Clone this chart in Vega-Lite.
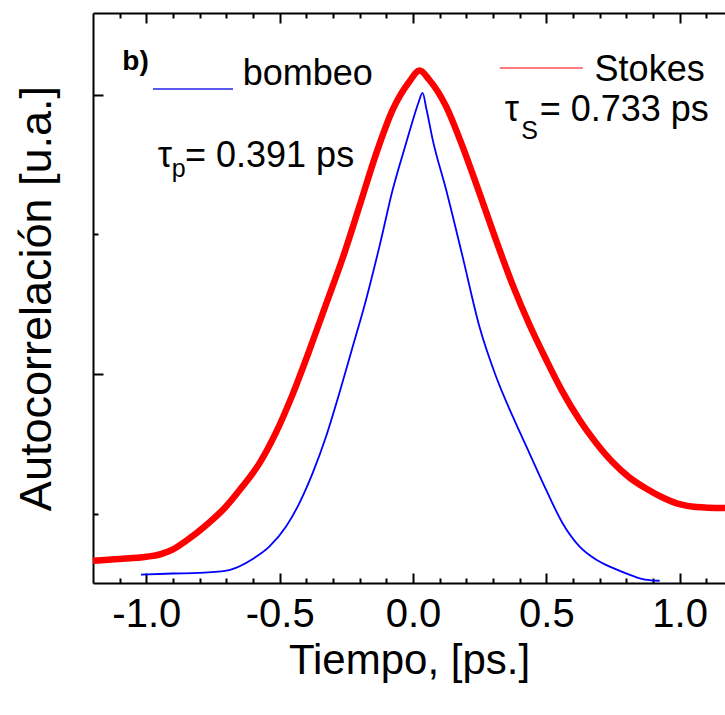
{
  "$schema": "https://vega.github.io/schema/vega-lite/v6.json",
  "width": 632,
  "height": 570,
  "autosize": {"type": "none"},
  "padding": {"left": 93, "top": 13, "right": 0, "bottom": 132},
  "background": "white",
  "config": {"view": {"stroke": null}, "font": "Liberation Sans"},
  "datasets": {
    "curves": [
      {"serie": "Stokes", "t": -1.2, "a": 0.166},
      {"serie": "Stokes", "t": -1.1, "a": 0.169},
      {"serie": "Stokes", "t": -1.0, "a": 0.173},
      {"serie": "Stokes", "t": -0.95, "a": 0.177},
      {"serie": "Stokes", "t": -0.9, "a": 0.186},
      {"serie": "Stokes", "t": -0.851, "a": 0.2015},
      {"serie": "Stokes", "t": -0.777, "a": 0.229},
      {"serie": "Stokes", "t": -0.701, "a": 0.263},
      {"serie": "Stokes", "t": -0.639, "a": 0.299},
      {"serie": "Stokes", "t": -0.576, "a": 0.340},
      {"serie": "Stokes", "t": -0.514, "a": 0.395},
      {"serie": "Stokes", "t": -0.451, "a": 0.464},
      {"serie": "Stokes", "t": -0.388, "a": 0.543},
      {"serie": "Stokes", "t": -0.326, "a": 0.625},
      {"serie": "Stokes", "t": -0.264, "a": 0.707},
      {"serie": "Stokes", "t": -0.201, "a": 0.800},
      {"serie": "Stokes", "t": -0.139, "a": 0.893},
      {"serie": "Stokes", "t": -0.076, "a": 0.973},
      {"serie": "Stokes", "t": -0.014, "a": 1.023},
      {"serie": "Stokes", "t": 0.025, "a": 1.043},
      {"serie": "Stokes", "t": 0.06, "a": 1.027},
      {"serie": "Stokes", "t": 0.124, "a": 0.979},
      {"serie": "Stokes", "t": 0.186, "a": 0.907},
      {"serie": "Stokes", "t": 0.249, "a": 0.824},
      {"serie": "Stokes", "t": 0.311, "a": 0.740},
      {"serie": "Stokes", "t": 0.374, "a": 0.659},
      {"serie": "Stokes", "t": 0.436, "a": 0.589},
      {"serie": "Stokes", "t": 0.499, "a": 0.526},
      {"serie": "Stokes", "t": 0.561, "a": 0.468},
      {"serie": "Stokes", "t": 0.624, "a": 0.418},
      {"serie": "Stokes", "t": 0.686, "a": 0.377},
      {"serie": "Stokes", "t": 0.749, "a": 0.342},
      {"serie": "Stokes", "t": 0.811, "a": 0.315},
      {"serie": "Stokes", "t": 0.874, "a": 0.295},
      {"serie": "Stokes", "t": 0.936, "a": 0.279},
      {"serie": "Stokes", "t": 0.999, "a": 0.267},
      {"serie": "Stokes", "t": 1.061, "a": 0.262},
      {"serie": "Stokes", "t": 1.17, "a": 0.260},
      {"serie": "bombeo", "t": -1.02, "a": 0.141},
      {"serie": "bombeo", "t": -0.9, "a": 0.143},
      {"serie": "bombeo", "t": -0.8, "a": 0.144},
      {"serie": "bombeo", "t": -0.7, "a": 0.148},
      {"serie": "bombeo", "t": -0.65, "a": 0.156},
      {"serie": "bombeo", "t": -0.601, "a": 0.169},
      {"serie": "bombeo", "t": -0.538, "a": 0.1915},
      {"serie": "bombeo", "t": -0.476, "a": 0.227},
      {"serie": "bombeo", "t": -0.426, "a": 0.269},
      {"serie": "bombeo", "t": -0.376, "a": 0.323},
      {"serie": "bombeo", "t": -0.326, "a": 0.388},
      {"serie": "bombeo", "t": -0.276, "a": 0.466},
      {"serie": "bombeo", "t": -0.226, "a": 0.549},
      {"serie": "bombeo", "t": -0.176, "a": 0.633},
      {"serie": "bombeo", "t": -0.126, "a": 0.728},
      {"serie": "bombeo", "t": -0.076, "a": 0.830},
      {"serie": "bombeo", "t": -0.026, "a": 0.913},
      {"serie": "bombeo", "t": 0.0, "a": 0.955},
      {"serie": "bombeo", "t": 0.02, "a": 0.985},
      {"serie": "bombeo", "t": 0.036, "a": 1.003},
      {"serie": "bombeo", "t": 0.05, "a": 0.975},
      {"serie": "bombeo", "t": 0.074, "a": 0.919},
      {"serie": "bombeo", "t": 0.124, "a": 0.830},
      {"serie": "bombeo", "t": 0.186, "a": 0.710},
      {"serie": "bombeo", "t": 0.249, "a": 0.585},
      {"serie": "bombeo", "t": 0.311, "a": 0.496},
      {"serie": "bombeo", "t": 0.374, "a": 0.424},
      {"serie": "bombeo", "t": 0.436, "a": 0.359},
      {"serie": "bombeo", "t": 0.499, "a": 0.293},
      {"serie": "bombeo", "t": 0.561, "a": 0.233},
      {"serie": "bombeo", "t": 0.624, "a": 0.1915},
      {"serie": "bombeo", "t": 0.686, "a": 0.168},
      {"serie": "bombeo", "t": 0.749, "a": 0.153},
      {"serie": "bombeo", "t": 0.811, "a": 0.141},
      {"serie": "bombeo", "t": 0.87, "a": 0.132},
      {"serie": "bombeo", "t": 0.925, "a": 0.130}
    ],
    "keys": [
      {"serie": "bombeo", "t": -0.975, "t2": -0.675, "a": 1.010},
      {"serie": "Stokes", "t": 0.325, "t2": 0.637, "a": 1.0476}
    ],
    "main": [
      {"t": -0.6386, "a": 1.0165, "txt": "bombeo"},
      {"t": 0.681, "a": 1.0236, "txt": "Stokes"},
      {"t": -0.957, "a": 0.871, "txt": "τ"},
      {"t": -0.855, "a": 0.871, "txt": "= 0.391 ps"},
      {"t": 0.344, "a": 0.952, "txt": "τ"},
      {"t": 0.475, "a": 0.952, "txt": "= 0.733 ps"}
    ],
    "subs": [
      {"t": -0.905, "a": 0.853, "txt": "p"},
      {"t": 0.406, "a": 0.921, "txt": "S"}
    ],
    "panel": [
      {"t": -1.09, "a": 1.059, "txt": "b)"}
    ],
    "anchor": [
      {"t": 0, "a": 0.5}
    ]
  },
  "resolve": {"axis": {"x": "independent"}},
  "layer": [
    {
      "data": {"name": "anchor"},
      "mark": {"type": "point", "opacity": 0},
      "encoding": {
        "x": {"field": "t", "type": "quantitative", "scale": {"domain": [-1.2, 1.17], "nice": false},
          "axis": {"orient": "bottom", "values": [-1.0, -0.5, 0, 0.5, 1.0],
            "ticks": false, "tickSize": 0,
            "grid": true, "gridColor": "black", "gridWidth": 2, "gridOpacity": 1, "gridDash": [10, 550, 10],
            "domain": true, "domainColor": "black", "domainWidth": 2,
            "labelExpr": "replace(format(datum.value, '.1f'), '\u2212', '-')",
            "labelFontSize": 40, "labelColor": "black", "labelPadding": 11,
            "title": "Tiempo, [ps.]", "titleFontSize": 42, "titleFontWeight": "normal", "titleColor": "black", "titlePadding": 6}},
        "y": {"field": "a", "type": "quantitative", "scale": {"domain": [0.126, 1.146], "nice": false},
          "axis": {
            "orient": "left",
            "values": [0.25, 0.5, 0.75, 1.0],
            "labels": false,
            "tickSize": {"condition": {"test": "abs(datum.value*2 - round(datum.value*2)) < 0.001", "value": -10}, "value": -5},
            "domainColor": "black", "domainWidth": 2,
            "tickColor": "black", "tickWidth": 2,
            "grid": false,
            "title": "Autocorrelación [u.a.]", "titleFontSize": 45, "titleFontWeight": "normal", "titleColor": "black", "titlePadding": 33
          }}
      }
    },
    {
      "data": {"name": "anchor"},
      "mark": {"type": "point", "opacity": 0},
      "encoding": {
        "x": {"field": "t", "type": "quantitative", "scale": {"domain": [-1.2, 1.17], "nice": false},
          "axis": {"orient": "bottom", "values": [-1.1, -0.9, -0.8, -0.7, -0.6, -0.4, -0.3, -0.2, -0.1, 0.1, 0.2, 0.3, 0.4, 0.6, 0.7, 0.8, 0.9, 1.1],
            "ticks": false, "tickSize": 0, "labels": false, "domain": false,
            "grid": true, "gridColor": "black", "gridWidth": 2, "gridOpacity": 1, "gridDash": [5, 560, 5],
            "title": null}},
        "y": {"field": "a", "type": "quantitative", "scale": {"domain": [0.126, 1.146], "nice": false}}
      }
    },
    {
      "data": {"name": "anchor"},
      "mark": {"type": "point", "opacity": 0},
      "encoding": {
        "x": {"field": "t", "type": "quantitative", "scale": {"domain": [-1.2, 1.17], "nice": false},
          "axis": {"orient": "top", "ticks": false, "labels": false, "domainColor": "black", "domainWidth": 2, "grid": false, "title": null}},
        "y": {"field": "a", "type": "quantitative", "scale": {"domain": [0.126, 1.146], "nice": false}}
      }
    },
    {
      "data": {"name": "curves"},
      "transform": [{"filter": "datum.serie == 'Stokes'"}],
      "mark": {"type": "line", "color": "#ff0000", "strokeWidth": 6.5, "interpolate": "monotone"},
      "encoding": {
        "x": {"field": "t", "type": "quantitative", "scale": {"domain": [-1.2, 1.17], "nice": false}, "axis": null},
        "y": {"field": "a", "type": "quantitative", "scale": {"domain": [0.126, 1.146], "nice": false}}
      }
    },
    {
      "data": {"name": "curves"},
      "transform": [{"filter": "datum.serie == 'bombeo'"}],
      "mark": {"type": "line", "color": "#0000ff", "strokeWidth": 1.8, "interpolate": "monotone"},
      "encoding": {
        "x": {"field": "t", "type": "quantitative", "scale": {"domain": [-1.2, 1.17], "nice": false}, "axis": null},
        "y": {"field": "a", "type": "quantitative", "scale": {"domain": [0.126, 1.146], "nice": false}}
      }
    },
    {
      "data": {"name": "keys"},
      "mark": {"type": "rule", "strokeWidth": 1.5},
      "encoding": {
        "x": {"field": "t", "type": "quantitative", "scale": {"domain": [-1.2, 1.17], "nice": false}, "axis": null},
        "x2": {"field": "t2"},
        "y": {"field": "a", "type": "quantitative", "scale": {"domain": [0.126, 1.146], "nice": false}},
        "color": {"field": "serie", "type": "nominal", "scale": {"domain": ["bombeo", "Stokes"], "range": ["#2222ee", "#ff5050"]}, "legend": null}
      }
    },
    {
      "data": {"name": "main"},
      "mark": {"type": "text", "align": "left", "baseline": "alphabetic", "fontSize": 36, "color": "black", "font": "Liberation Sans"},
      "encoding": {
        "x": {"field": "t", "type": "quantitative", "scale": {"domain": [-1.2, 1.17], "nice": false}, "axis": null},
        "y": {"field": "a", "type": "quantitative", "scale": {"domain": [0.126, 1.146], "nice": false}},
        "text": {"field": "txt"}
      }
    },
    {
      "data": {"name": "subs"},
      "mark": {"type": "text", "align": "left", "baseline": "alphabetic", "fontSize": 25, "color": "black", "font": "Liberation Sans"},
      "encoding": {
        "x": {"field": "t", "type": "quantitative", "scale": {"domain": [-1.2, 1.17], "nice": false}, "axis": null},
        "y": {"field": "a", "type": "quantitative", "scale": {"domain": [0.126, 1.146], "nice": false}},
        "text": {"field": "txt"}
      }
    },
    {
      "data": {"name": "panel"},
      "mark": {"type": "text", "align": "left", "baseline": "middle", "fontSize": 28, "fontWeight": "bold", "color": "black", "font": "Liberation Sans"},
      "encoding": {
        "x": {"field": "t", "type": "quantitative", "scale": {"domain": [-1.2, 1.17], "nice": false}, "axis": null},
        "y": {"field": "a", "type": "quantitative", "scale": {"domain": [0.126, 1.146], "nice": false}},
        "text": {"field": "txt"}
      }
    }
  ]
}
